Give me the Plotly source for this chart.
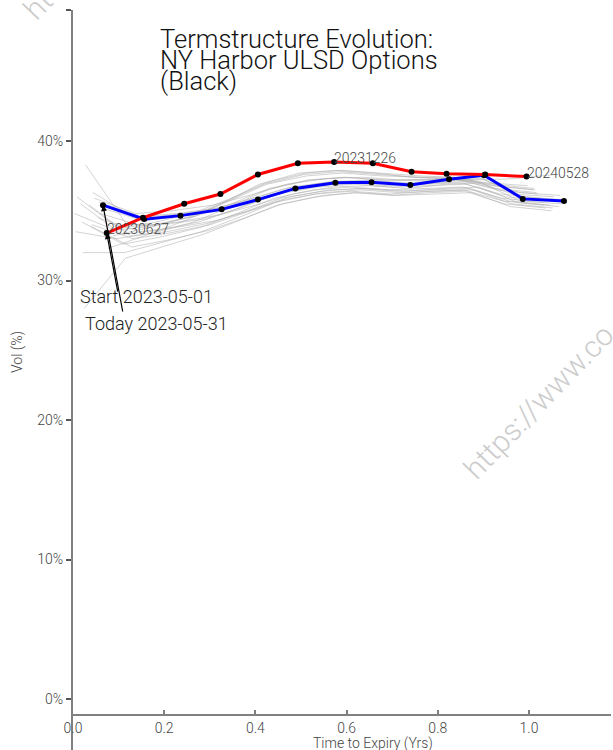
import datetime as dt
import plotly.graph_objects as go

# ---------------- data ----------------
expiries = ["2023-05-25", "2023-06-27", "2023-07-26", "2023-08-28", "2023-09-26",
            "2023-10-26", "2023-11-27", "2023-12-26", "2024-01-26", "2024-02-26",
            "2024-03-25", "2024-04-25", "2024-05-28"]

start_date = "2023-05-01"
today_date = "2023-05-31"

start_vols = [35.4, 34.4, 34.65, 35.1, 35.8, 36.6, 37.0, 37.05, 36.85, 37.25, 37.55, 35.85, 35.7]
today_vols = [33.4, 34.5, 35.5, 36.2, 37.6, 38.4, 38.5, 38.4, 37.8, 37.65, 37.6, 37.45]

gray_dates = ["2023-05-02", "2023-05-03", "2023-05-04", "2023-05-05", "2023-05-08",
              "2023-05-09", "2023-05-10", "2023-05-11", "2023-05-12", "2023-05-15",
              "2023-05-16", "2023-05-17", "2023-05-18", "2023-05-19", "2023-05-22",
              "2023-05-23", "2023-05-24", "2023-05-25", "2023-05-26", "2023-05-30"]
gray_vols = [
    [35.2, 34.3, 34.6, 35.0, 35.7, 36.5, 36.9, 37.0, 36.8, 37.1, 37.3, 36.0, 35.8],
    [34.8, 33.9, 34.2, 34.7, 35.4, 36.2, 36.7, 36.8, 36.6, 36.9, 37.0, 35.7, 35.5],
    [35.6, 34.6, 34.8, 35.2, 35.9, 36.7, 37.1, 37.2, 37.0, 37.2, 37.3, 36.3, 36.1],
    [34.5, 33.5, 33.8, 34.3, 35.1, 36.0, 36.5, 36.6, 36.4, 36.6, 36.7, 35.6, 35.3],
    [35.9, 34.8, 35.0, 35.4, 36.1, 36.9, 37.3, 37.4, 37.2, 37.3, 37.2, 37.3, 37.6],
    [36.3, 34.5, 34.7, 35.1, 35.8, 36.6, 37.0, 37.1, 36.9, 37.0, 37.1, 36.2, 36.0],
    [34.0, 33.0, 33.4, 34.0, 34.9, 35.8, 36.3, 36.5, 36.3, 36.4, 36.5, 35.5, 35.2],
    [33.9, 32.4, 32.9, 33.6, 34.5, 35.5, 36.1, 36.3, 36.1, 36.2, 36.3, 35.3, 35.0],
    [35.4, 33.2, 33.5, 34.1, 34.9, 35.9, 36.4, 36.6, 36.4, 36.5, 36.6, 35.7, 35.4],
    [38.3, 34.0, 34.0, 34.4, 35.2, 36.2, 36.7, 36.9, 36.7, 36.8, 36.9, 36.0, 35.7],
    [28.0, 31.6, 32.4, 33.3, 34.3, 35.4, 36.0, 36.3, 36.1, 36.3, 36.4, 35.5, 35.2],
    [32.0, 32.0, 32.7, 33.5, 34.5, 35.6, 36.2, 36.4, 36.2, 36.4, 36.5, 35.7, 35.4],
    [34.2, 32.6, 33.1, 33.8, 34.8, 35.9, 36.5, 36.7, 36.5, 36.6, 36.7, 35.9, 35.6],
    [35.5, 33.3, 33.6, 34.2, 35.1, 36.2, 36.8, 37.0, 36.8, 36.9, 37.0, 36.2, 35.9],
    [36.0, 33.8, 34.0, 34.6, 35.5, 36.6, 37.2, 37.4, 37.2, 37.2, 37.3, 36.5, 36.2],
    [33.5, 33.0, 33.4, 34.2, 35.3, 36.5, 37.2, 37.4, 37.2, 37.2, 37.2, 36.6, 36.3],
    [34.8, 33.6, 33.9, 34.6, 35.7, 36.9, 37.5, 37.7, 37.5, 37.4, 37.4, 36.8, 36.5],
    [33.9, 34.1, 34.8, 35.8, 37.0, 37.7, 37.9, 37.7, 37.5, 37.4, 36.9, 36.6],
    [33.2, 33.8, 34.6, 35.7, 36.9, 37.6, 37.8, 37.6, 37.4, 37.3, 36.8, 36.5],
    [32.3, 33.2, 34.3, 35.5, 36.9, 37.7, 37.9, 37.7, 37.4, 37.3, 37.0, 36.8],
]

label_indices = [0, 6, 11]          # today curve points labelled with expiry
x_ticks = [0.0, 0.2, 0.4, 0.6, 0.8, 1.0]
x_tick_text = ["0.0", "0.2", "0.4", "0.6", "0.8", "1.0"]
y_ticks = [0, 10, 20, 30, 40]
y_tick_text = ["0%", "10%", "20%", "30%", "40%"]

title_lines = ["Termstructure Evolution:", "NY Harbor ULSD Options", "(Black)"]
watermark = "https://www.co"

FONT = "Roboto Light, Roboto"


def d(s):
    return dt.date.fromisoformat(s)


def curve_x(trade):
    t = d(trade)
    return [(d(e) - t).days / 365.0 for e in expiries if d(e) > t]


def curve_exp(trade):
    t = d(trade)
    return [e for e in expiries if d(e) > t]


# ---------------- figure ----------------
fig = go.Figure()

for gd, gv in zip(gray_dates, gray_vols):
    fig.add_trace(go.Scatter(x=curve_x(gd), y=gv, mode="lines",
                             line=dict(color="rgba(175,175,175,0.55)", width=1),
                             hoverinfo="skip"))

sx = curve_x(start_date)
tx = curve_x(today_date)
fig.add_trace(go.Scatter(x=sx, y=start_vols, mode="lines+markers",
                         line=dict(color="#0000ff", width=3),
                         marker=dict(color="black", size=6)))
fig.add_trace(go.Scatter(x=tx, y=today_vols, mode="lines+markers",
                         line=dict(color="#ff0000", width=3),
                         marker=dict(color="black", size=6)))

W, H = 613, 750
ML, MR, MT, MB = 73, 2, 10, 0
PW, PH = W - ML - MR, H - MT - MB


def px(xp):
    return (xp - ML) / PW


def py(yp):
    return (H - MB - yp) / PH


ann = []
# title lines
for line, yc in zip(title_lines, [38.5, 60, 81]):
    ann.append(dict(text=line, xref="paper", yref="paper", x=px(158), y=py(yc),
                    xanchor="left", yanchor="middle", showarrow=False,
                    font=dict(size=25.5, color="#111", family=FONT, weight=300)))

# expiry labels on today's curve
texp = curve_exp(today_date)
for i in label_indices:
    ann.append(dict(text=texp[i].replace("-", ""), x=tx[i], y=today_vols[i],
                    xref="x", yref="y", xanchor="left", yanchor="middle",
                    xshift=-2, yshift=4, showarrow=False,
                    font=dict(size=14, color="#444", family=FONT, weight=300)))

# arrows
ann.append(dict(text="", x=sx[0], y=start_vols[0], xref="x", yref="y",
                ax=0.1096, ay=27.67, axref="x", ayref="y", showarrow=True,
                arrowhead=2, arrowsize=1, arrowwidth=1.2, arrowcolor="black", standoff=0))
ann.append(dict(text="", x=tx[0], y=today_vols[0], xref="x", yref="y",
                ax=0.0987, ay=29.1, axref="x", ayref="y", showarrow=True,
                arrowhead=2, arrowsize=1, arrowwidth=1.2, arrowcolor="black", standoff=0))
ann.append(dict(text="Start " + start_date, xref="paper", yref="paper",
                x=px(78), y=py(296.5), xanchor="left", yanchor="middle", showarrow=False,
                font=dict(size=18, color="#222", family=FONT, weight=300)))
ann.append(dict(text="Today " + today_date, xref="paper", yref="paper",
                x=px(83), y=py(323.5), xanchor="left", yanchor="middle", showarrow=False,
                font=dict(size=18, color="#222", family=FONT, weight=300)))

# axis titles
ann.append(dict(text="Time to Expiry (Yrs)", xref="paper", yref="paper",
                x=px(373), y=py(743), xanchor="center", yanchor="middle", showarrow=False,
                font=dict(size=14, color="#444", family=FONT, weight=300)))
ann.append(dict(text="Vol (%)", xref="paper", yref="paper", textangle=-90,
                x=px(17), y=py(352), xanchor="center", yanchor="middle", showarrow=False,
                font=dict(size=14, color="#444", family=FONT, weight=300)))

# watermarks
for cx, cy in [(539, 402), (98, -58)]:
    ann.append(dict(text=watermark, xref="paper", yref="paper", textangle=-46,
                    x=px(cx), y=py(cy), xanchor="center", yanchor="middle", showarrow=False,
                    font=dict(size=30, color="#cccccc", family=FONT, weight=300)))

y0px, y40px = 699, 141
scale = (y0px - y40px) / 40.0
ymax = 40 + (y40px - MT) / scale
ymin = -(H - MB - y0px) / scale

fig.update_layout(
    width=W, height=H,
    margin=dict(l=ML, r=MR, t=MT, b=MB, autoexpand=False),
    paper_bgcolor="white", plot_bgcolor="white",
    showlegend=False,
    font=dict(family=FONT, size=14, color="#444"),
    annotations=ann,
    xaxis=dict(range=[0, PW / 456.0], tickvals=x_ticks, ticktext=x_tick_text,
               showgrid=False, zeroline=False, showline=True,
               linecolor="#808080", linewidth=2, ticks="inside", ticklen=4,
               tickcolor="#808080", tickwidth=1.5,
               anchor="free", position=py(715),
               tickfont=dict(size=14, color="#444", family=FONT, weight=300)),
    yaxis=dict(range=[ymin, ymax], tickvals=y_ticks + [ymax - 0.01],
               ticktext=y_tick_text + [""],
               showgrid=False, zeroline=False, showline=True,
               linecolor="#808080", linewidth=2, ticks="outside", ticklen=5,
               tickcolor="#555", tickwidth=1.5,
               tickfont=dict(size=14, color="#444", family=FONT, weight=300)),
)

fig.write_html("out.html", config={"displayModeBar": False},
               post_script="document.body.style.margin='0';")
